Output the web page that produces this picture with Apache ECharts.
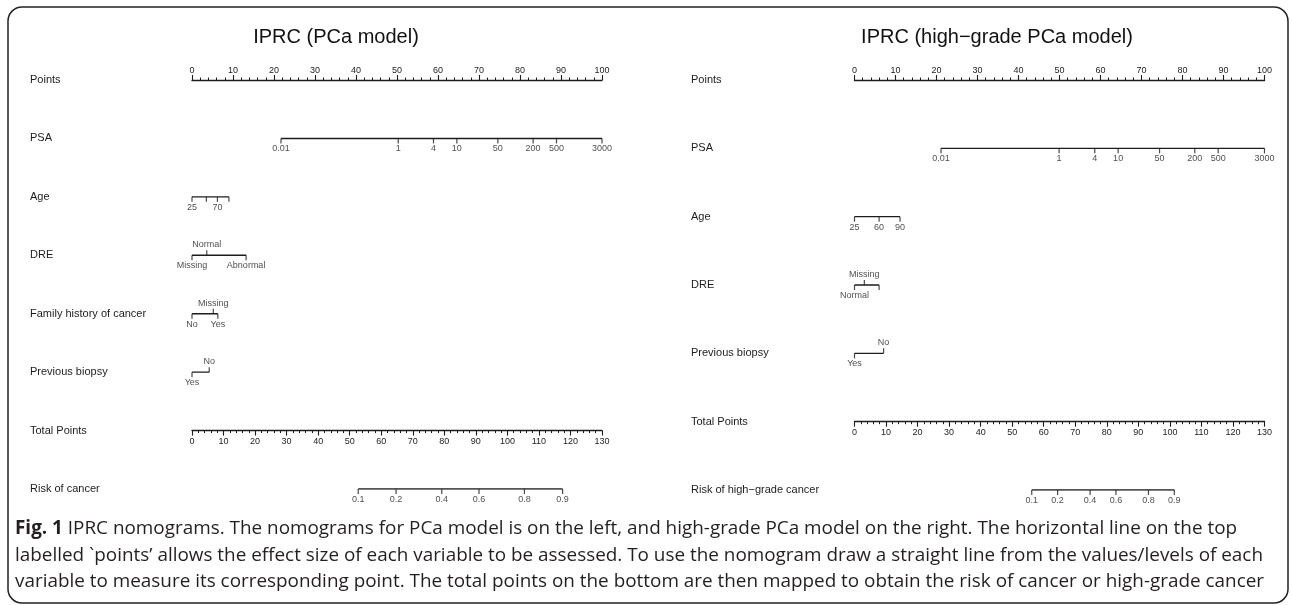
<!DOCTYPE html>
<html>
<head>
<meta charset="utf-8">
<script src="https://cdn.jsdelivr.net/npm/echarts@6/dist/echarts.min.js"></script>
<style>
  html, body { margin: 0; padding: 0; background: #fff; }
  #chart { width: 1292px; height: 605px; }
</style>
</head>
<body>
<div id="chart"></div>
<script>
// ---- IPRC (PCa model), left ----
const rowsPCa = ['Points', 'PSA', 'Age', 'DRE', 'Family history of cancer', 'Previous biopsy', 'Total Points', 'Risk of cancer'];
const psaLabels = ['0.01', '1', '4', '10', '50', '200', '500', '3000'];
const psaPtsPCa = [21.7, 50.3, 58.9, 64.6, 74.6, 83.2, 88.9, 100];
const ageLabelsPCa = ['25', '50', '70', '90'];
const agePtsPCa = [0, 3.5, 6.2, 9.0];
const ageSidePCa = ['b', '', 'b', ''];
const dreLabelsPCa = ['Missing', 'Normal', 'Abnormal'];
const drePtsPCa = [0, 3.6, 13.2];
const dreSidePCa = ['b', 't', 'b'];
const famLabels = ['No', 'Missing', 'Yes'];
const famPts = [0, 5.2, 6.3];
const famSide = ['b', 't', 'b'];
const bxLabelsPCa = ['Yes', 'No'];
const bxPtsPCa = [0, 4.2];
const bxSidePCa = ['b', 't'];
const riskLabels = ['0.1', '0.2', '0.4', '0.6', '0.8', '0.9'];
const riskTotPCa = [52.7, 64.7, 79.2, 91.0, 105.4, 117.5];

// ---- IPRC (high-grade PCa model), right ----
const rowsHG = ['Points', 'PSA', 'Age', 'DRE', 'Previous biopsy', 'Total Points', 'Risk of high\u2212grade cancer'];
const psaPtsHG = [21.1, 49.9, 58.6, 64.3, 74.4, 83.0, 88.7, 100];
const ageLabelsHG = ['25', '60', '90'];
const agePtsHG = [0, 6.0, 11.1];
const dreLabelsHG = ['Normal', 'Missing', 'Abnormal'];
const drePtsHG = [0, 2.4, 6.0];
const dreSideHG = ['b', 't', ''];
const bxLabelsHG = ['Yes', 'No'];
const bxPtsHG = [0, 7.1];
const bxSideHG = ['b', 't'];
const riskTotHG = [56.2, 64.4, 74.7, 82.9, 93.2, 101.4];

const captionLines = [
  '{b|Fig. 1} IPRC nomograms. The nomograms for PCa model is on the left, and high-grade PCa model on the right. The horizontal line on the top',
  'labelled `points\u2019 allows the effect size of each variable to be assessed. To use the nomogram draw a straight line from the values/levels of each',
  'variable to measure its corresponding point. The total points on the bottom are then mapped to obtain the risk of cancer or high-grade cancer'
];

const INK = '#1c1c1c';
const FONT = "'Liberation Sans', Arial, Helvetica, sans-serif";
const CAP_FONT = "'Open Sans', 'Noto Sans', sans-serif";
const CAP_SIZE = 18.9;

var chart = echarts.init(document.getElementById('chart'));

function allBelow(a) { return a.map(function () { return 'b'; }); }

// one variable scale: a segment plus ticks and level labels
function scaleRow(g, xi, row, names, pts, side) {
  return [
    {
      type: 'line', xAxisIndex: xi, yAxisIndex: g, silent: true,
      symbol: 'none',
      lineStyle: { color: INK, width: 1.4 },
      data: [[Math.min.apply(null, pts), row], [Math.max.apply(null, pts), row]]
    },
    {
      type: 'scatter', xAxisIndex: xi, yAxisIndex: g, silent: true,
      symbol: 'rect', symbolSize: [1.2, 5],
      itemStyle: { color: INK },
      label: { formatter: '{b}', fontSize: 9, color: INK, fontFamily: FONT, distance: 1 },
      data: pts.map(function (p, i) {
        var up = side[i] === 't';
        return {
          name: names[i],
          value: [p, row],
          symbolOffset: [0, up ? -2.5 : 2.5],
          label: { show: side[i] !== '', position: up ? 'top' : 'bottom' }
        };
      })
    }
  ];
}

function scoreAxis(g, pos, max, offset, margin) {
  return {
    type: 'value', gridIndex: g, position: pos, offset: offset, min: 0, max: max, interval: 10,
    axisLine: { show: true, onZero: false, lineStyle: { color: INK, width: 1.4 } },
    axisTick: { show: true, length: 5, lineStyle: { color: INK, width: 1.1 } },
    minorTick: { show: true, splitNumber: 5, length: 2.5, lineStyle: { color: INK, width: 1 } },
    axisLabel: { fontSize: 9, color: INK, fontFamily: FONT, margin: margin },
    splitLine: { show: false }
  };
}

function rowAxis(g, rows, margin) {
  return {
    type: 'category', gridIndex: g, data: rows, inverse: true, boundaryGap: false,
    axisLine: { show: false }, axisTick: { show: false }, splitLine: { show: false },
    axisLabel: { interval: 0, align: 'left', margin: margin, fontSize: 11, color: INK, fontFamily: FONT }
  };
}

var grids = [
  { left: 192, width: 410, top: 80, height: 409 },
  { left: 854.5, width: 410, top: 80, height: 410 }
];
var gapPCa = grids[0].height / (rowsPCa.length - 1);
var gapHG = grids[1].height / (rowsHG.length - 1);

var series = [].concat(
  scaleRow(0, 0, rowsPCa[1], psaLabels, psaPtsPCa, allBelow(psaLabels)),
  scaleRow(0, 0, rowsPCa[2], ageLabelsPCa, agePtsPCa, ageSidePCa),
  scaleRow(0, 0, rowsPCa[3], dreLabelsPCa, drePtsPCa, dreSidePCa),
  scaleRow(0, 0, rowsPCa[4], famLabels, famPts, famSide),
  scaleRow(0, 0, rowsPCa[5], bxLabelsPCa, bxPtsPCa, bxSidePCa),
  scaleRow(0, 1, rowsPCa[7], riskLabels, riskTotPCa, allBelow(riskLabels)),
  scaleRow(1, 2, rowsHG[1], psaLabels, psaPtsHG, allBelow(psaLabels)),
  scaleRow(1, 2, rowsHG[2], ageLabelsHG, agePtsHG, allBelow(ageLabelsHG)),
  scaleRow(1, 2, rowsHG[3], dreLabelsHG, drePtsHG, dreSideHG),
  scaleRow(1, 2, rowsHG[4], bxLabelsHG, bxPtsHG, bxSideHG),
  scaleRow(1, 3, rowsHG[6], riskLabels, riskTotHG, allBelow(riskLabels))
);

var titleStyle = { fontSize: 20, fontFamily: FONT, fill: '#111', align: 'center', verticalAlign: 'middle' };

var option = {
  animation: false,
  backgroundColor: '#fff',
  grid: grids,
  xAxis: [
    scoreAxis(0, 'top', 100, 0, 5), scoreAxis(0, 'bottom', 130, -gapPCa, 6),
    scoreAxis(1, 'top', 100, 0, 5), scoreAxis(1, 'bottom', 130, -gapHG, 6)
  ],
  yAxis: [rowAxis(0, rowsPCa, 162), rowAxis(1, rowsHG, 163.5)],
  series: series,
  graphic: [
    {
      type: 'rect', silent: true,
      shape: { x: 8, y: 7, width: 1280, height: 596, r: 14 },
      style: { fill: 'none', stroke: '#222', lineWidth: 1.5 }
    },
    { type: 'text', x: 336, y: 37, style: Object.assign({ text: 'IPRC (PCa model)' }, titleStyle) },
    { type: 'text', x: 997, y: 37, style: Object.assign({ text: 'IPRC (high\u2212grade PCa model)' }, titleStyle) }
  ].concat(captionLines.map(function (t, i) {
    return {
      type: 'text', x: 15, y: 529 + i * 26.3,
      style: {
        text: t, fontSize: CAP_SIZE, fontFamily: CAP_FONT, fill: '#231f20', verticalAlign: 'middle',
        rich: { b: { fontSize: CAP_SIZE, fontFamily: CAP_FONT, fontWeight: 'bold', fill: '#231f20' } }
      }
    };
  }))
};

chart.setOption(option);
</script>
</body>
</html>
